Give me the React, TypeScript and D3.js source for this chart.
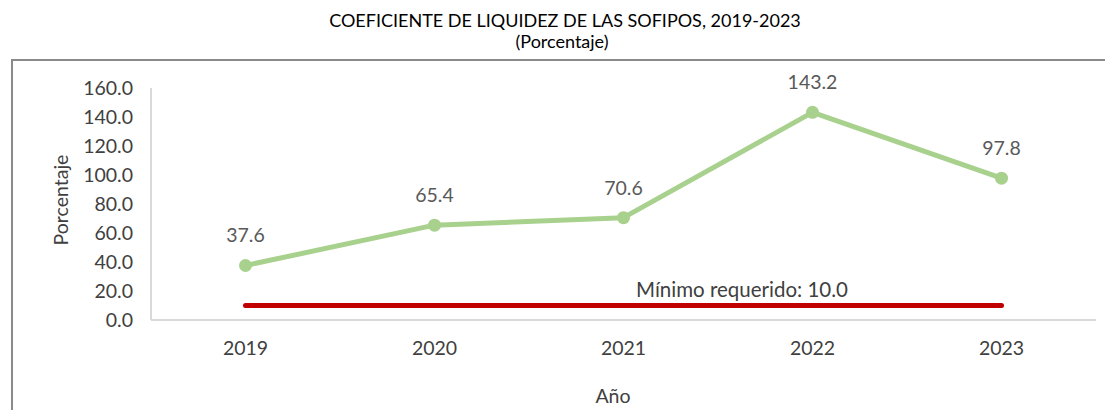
import React from "react";
import * as d3 from "d3";

const years = ["2019", "2020", "2021", "2022", "2023"];
const liquidity = [37.6, 65.4, 70.6, 143.2, 97.8];
const minimumRequired = 10.0;
const yTicks = [0, 20, 40, 60, 80, 100, 120, 140, 160];
const titleLine1 = "COEFICIENTE DE LIQUIDEZ DE LAS SOFIPOS, 2019-2023";
const titleLine2 = "(Porcentaje)";
const minimumLabel = "Mínimo requerido: 10.0";
const yAxisTitle = "Porcentaje";
const xAxisTitle = "Año";

const W = 1105;
const H = 410;
const FONT = "Lato, 'Open Sans', sans-serif";

export default function App() {
  const x = d3.scaleBand<string>().domain(years).range([151, 1096]);
  const y = d3.scaleLinear().domain([0, 160]).range([320, 88]);
  const cx = (d: string) => (x(d) as number) + x.bandwidth() / 2;

  const line = d3
    .line<number>()
    .x((_, i) => cx(years[i]))
    .y((v) => y(v));

  const minLine = d3
    .line<string>()
    .x((d) => cx(d))
    .y(() => y(minimumRequired));

  return (
    <svg
      width={W}
      height={H}
      style={{ position: "absolute", left: 0, top: 0, display: "block", background: "#fff" }}
      fontFamily={FONT}
    >
      <rect x={12} y={60} width={W + 20} height={H} fill="none" stroke="#8a8a8a" strokeWidth={2} />
      <text x={565} y={27} textAnchor="middle" fontSize={18} fill="#000">
        {titleLine1}
      </text>
      <text x={562} y={48} textAnchor="middle" fontSize={18} fill="#000">
        {titleLine2}
      </text>

      {/* axes */}
      <line x1={151} x2={151} y1={88} y2={320} stroke="#d9d9d9" strokeWidth={2} />
      <line x1={151} x2={1096} y1={320} y2={320} stroke="#d9d9d9" strokeWidth={2} />

      {yTicks.map((t) => (
        <text key={t} x={133} y={y(t)} dy="0.35em" textAnchor="end" fontSize={19.5} fill="#404040">
          {d3.format(".1f")(t)}
        </text>
      ))}
      {years.map((yr) => (
        <text key={yr} x={cx(yr)} y={355} textAnchor="middle" fontSize={19.5} fill="#404040">
          {yr}
        </text>
      ))}

      <text
        transform={`translate(68,200) rotate(-90)`}
        textAnchor="middle"
        fontSize={19.5}
        fill="#404040"
      >
        {yAxisTitle}
      </text>
      <text x={613} y={403} textAnchor="middle" fontSize={19.5} fill="#404040">
        {xAxisTitle}
      </text>

      {/* minimum line */}
      <path
        d={minLine(years) || ""}
        fill="none"
        stroke="#c00000"
        strokeWidth={5}
        strokeLinecap="round"
      />
      <text x={742} y={297} textAnchor="middle" fontSize={20.5} fill="#404040">
        {minimumLabel}
      </text>

      {/* series */}
      <path
        d={line(liquidity) || ""}
        fill="none"
        stroke="#a9d18e"
        strokeWidth={5}
        strokeLinejoin="round"
        strokeLinecap="round"
      />
      {liquidity.map((v, i) => (
        <circle key={i} cx={cx(years[i])} cy={y(v)} r={6.5} fill="#a9d18e" />
      ))}
      {liquidity.map((v, i) => (
        <text
          key={"l" + i}
          x={cx(years[i])}
          y={y(v) - 23}
          textAnchor="middle"
          fontSize={19.5}
          fill="#595959"
        >
          {d3.format(".1f")(v)}
        </text>
      ))}
    </svg>
  );
}
